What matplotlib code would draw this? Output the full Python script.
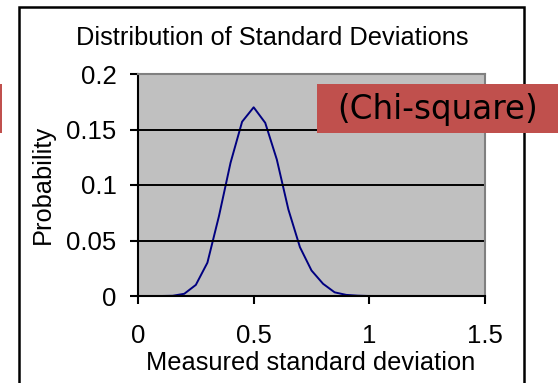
import matplotlib
matplotlib.use('Agg')
import matplotlib.pyplot as plt
from matplotlib.patches import Rectangle

# measured standard deviation vs probability
sd = [0.05, 0.1, 0.15, 0.2, 0.25, 0.3, 0.35, 0.4, 0.45, 0.5, 0.55, 0.6,
      0.65, 0.7, 0.75, 0.8, 0.85, 0.9, 0.95, 1.0, 1.05, 1.1, 1.15, 1.2,
      1.25, 1.3, 1.35, 1.4, 1.45, 1.5]
prob = [0.0, 0.0, 0.0002, 0.002, 0.01, 0.03, 0.072, 0.12, 0.157, 0.17, 0.156, 0.123,
        0.078, 0.044, 0.023, 0.011, 0.0033, 0.001, 0.0003, 0.0, 0.0, 0.0, 0.0, 0.0,
        0.0, 0.0, 0.0, 0.0, 0.0, 0.0]
xticks = [0, 0.5, 1, 1.5]
yticks = [0, 0.05, 0.1, 0.15, 0.2]

W, H = 558, 383
fig = plt.figure(figsize=(W / 100, H / 100), dpi=100)
font = 'Liberation Sans'

# outer chart frame
fig.patches.append(Rectangle((19 / W, -0.05), (524 - 19) / W, 1.05 - 7 / H,
                             transform=fig.transFigure, fill=False,
                             edgecolor='black', linewidth=1.8))

ax = fig.add_axes([138 / W, 1 - 296 / H, (485 - 138) / W, (296 - 74) / H])
ax.set_facecolor('#c0c0c0')
ax.plot(sd, prob, color='#000080', linewidth=1.4)

ax.set_xlim(0, 1.5)
ax.set_ylim(0, 0.2)
ax.set_xticks(xticks)
ax.set_xticklabels(['0', '0.5', '1', '1.5'], fontsize=18.5, fontfamily=font)
ax.set_yticks(yticks)
ax.set_yticklabels(['0', '0.05', '0.1', '0.15', '0.2'], fontsize=18.5, fontfamily=font)
ax.tick_params(axis='x', direction='out', length=6, width=1.5, pad=14.5)
ax.tick_params(axis='y', direction='out', length=6, width=1.5, pad=9.5)

for y in [0.05, 0.1, 0.15]:
    ax.axhline(y, color='black', linewidth=1.4)

ax.spines['left'].set_linewidth(1.5)
ax.spines['bottom'].set_linewidth(1.5)
ax.spines['top'].set_color('#808080')
ax.spines['right'].set_color('#808080')
ax.spines['top'].set_linewidth(1.5)
ax.spines['right'].set_linewidth(1.5)

fig.text(272 / W, 1 - 38 / H, 'Distribution of Standard Deviations',
         ha='center', va='center', fontsize=18.3, fontfamily=font)
fig.text(311 / W, 1 - 363 / H, 'Measured standard deviation',
         ha='center', va='center', fontsize=18.3, fontfamily=font)
fig.text(43 / W, 1 - 184 / H, 'Probability', rotation=90,
         ha='center', va='center', fontsize=18.3, fontfamily=font)

# red callout boxes
red = '#c0504d'
fig.patches.append(Rectangle((317 / W, 1 - 133 / H), (558 - 317) / W, 49 / H,
                             transform=fig.transFigure, facecolor=red,
                             edgecolor='none', zorder=5))
fig.patches.append(Rectangle((0, 1 - 133 / H), 1.5 / W, 49 / H,
                             transform=fig.transFigure, facecolor=red,
                             edgecolor='none', zorder=5))
fig.text(438 / W, 1 - 110 / H, '(Chi-square)', ha='center', va='center',
         fontsize=23.5, fontfamily='DejaVu Sans', zorder=6)

fig.savefig('out.png', dpi=100)
